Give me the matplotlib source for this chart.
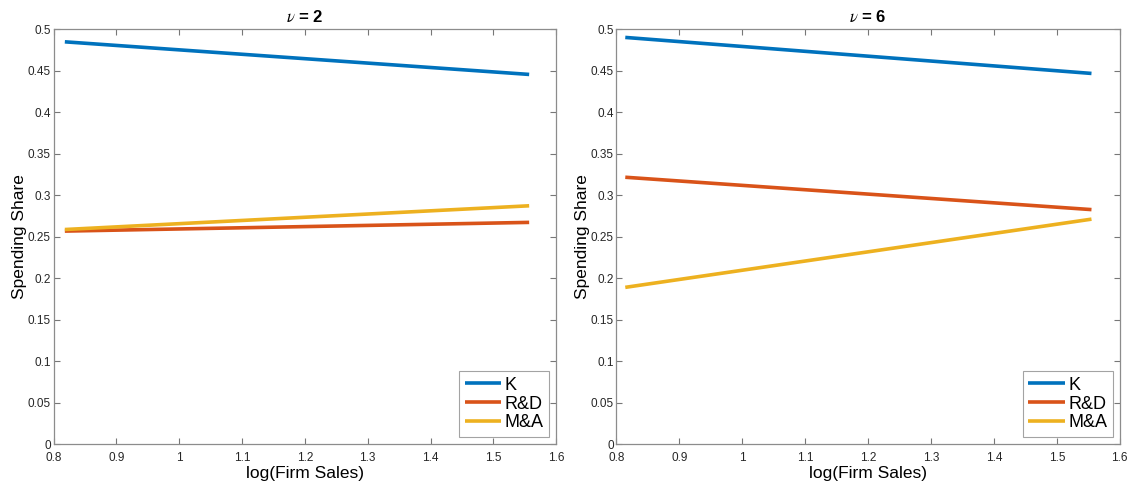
import matplotlib
matplotlib.use("Agg")
import matplotlib.pyplot as plt
from matplotlib.ticker import FuncFormatter, MultipleLocator

plt.rcParams['font.family'] = ['Liberation Sans', 'DejaVu Sans']
plt.rcParams['mathtext.fontset'] = 'stix'

series_names = ["K", "R&D", "M&A"]
colors = ["#0072BD", "#D95319", "#EDB120"]

# left panel: nu = 2
x_left = [0.818, 1.557]
k_left = [0.4847, 0.4454]
rd_left = [0.2566, 0.2671]
ma_left = [0.2585, 0.2871]

# right panel: nu = 6
x_right = [0.814, 1.555]
k_right = [0.4900, 0.4466]
rd_right = [0.3215, 0.2825]
ma_right = [0.1888, 0.2710]

titles = [r"$\nu$ = 2", r"$\nu$ = 6"]

fig = plt.figure(figsize=(11.27, 4.83), dpi=100)
ax1 = fig.add_axes([0.0475, 0.0807, 0.446, 0.859])
ax2 = fig.add_axes([0.547, 0.0807, 0.4466, 0.859])

panels = [
    (ax1, x_left, [k_left, rd_left, ma_left], titles[0]),
    (ax2, x_right, [k_right, rd_right, ma_right], titles[1]),
]

fmt = FuncFormatter(lambda v, p: ("%g" % round(v, 4)))

for ax, xs, ys, title in panels:
    for name, col, y in zip(series_names, colors, ys):
        ax.plot(xs, y, color=col, lw=2.6, label=name, solid_capstyle='butt')
    ax.set_xlim(0.8, 1.6)
    ax.set_ylim(0, 0.5)
    ax.xaxis.set_major_locator(MultipleLocator(0.1))
    ax.yaxis.set_major_locator(MultipleLocator(0.05))
    ax.xaxis.set_major_formatter(fmt)
    ax.yaxis.set_major_formatter(fmt)
    ax.tick_params(direction='in', length=4, width=0.8, colors='#777777',
                   labelcolor='#262626', labelsize=8.5, top=True, right=True)
    ax.tick_params(axis='x', pad=6)
    ax.tick_params(axis='y', pad=2)
    for s in ax.spines.values():
        s.set_color('#8c8c8c')
        s.set_linewidth(0.9)
    ax.set_title(title, fontsize=12, fontweight='bold', pad=5)
    ax.set_xlabel("log(Firm Sales)", fontsize=12.5, labelpad=1)
    ax.set_ylabel("Spending Share", fontsize=12.5)
    ax.yaxis.set_label_coords(-0.053, 0.5)
    leg = ax.legend(loc='lower right', fontsize=13, frameon=True, fancybox=False,
                    handlelength=2.0, handletextpad=0.2, borderpad=0.3,
                    labelspacing=0.1, borderaxespad=0.4)
    leg.get_frame().set_edgecolor('#8c8c8c')
    leg.get_frame().set_linewidth(0.8)

fig.savefig("out.png", dpi=100)
